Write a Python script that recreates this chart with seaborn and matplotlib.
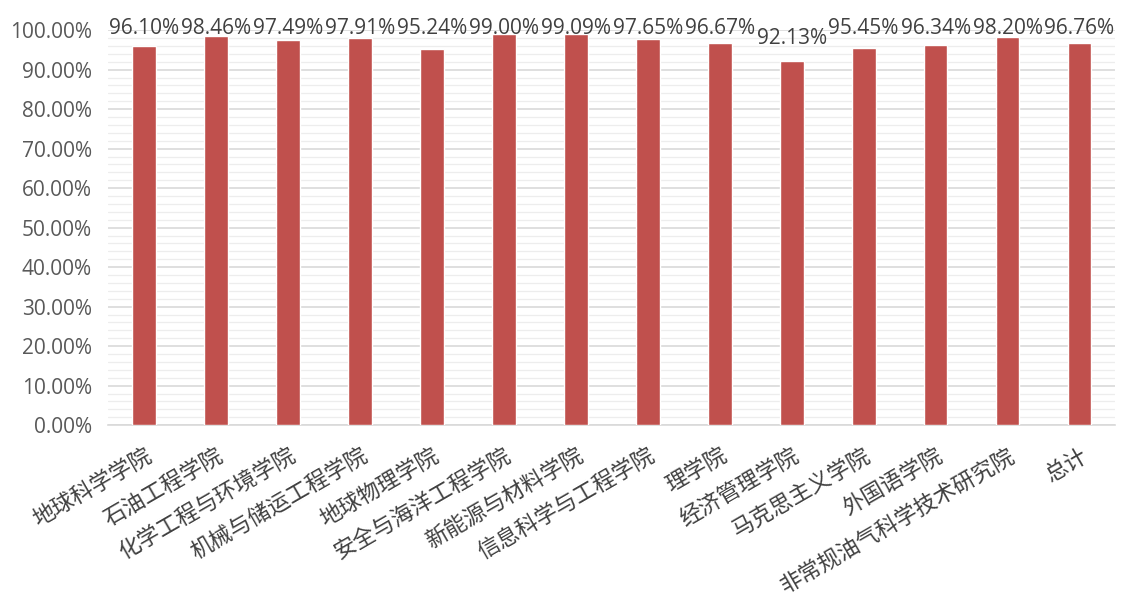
import numpy as np
import pandas as pd
import matplotlib
matplotlib.use("Agg")
import matplotlib.pyplot as plt
import seaborn as sns
from matplotlib.ticker import MultipleLocator, PercentFormatter

colleges = ["地球科学学院", "石油工程学院", "化学工程与环境学院", "机械与储运工程学院",
            "地球物理学院", "安全与海洋工程学院", "新能源与材料学院", "信息科学与工程学院",
            "理学院", "经济管理学院", "马克思主义学院", "外国语学院",
            "非常规油气科学技术研究院", "总计"]
rates = [96.10, 98.46, 97.49, 97.91, 95.24, 99.00, 99.09, 97.65,
         96.67, 92.13, 95.45, 96.34, 98.20, 96.76]

sns.set_theme(style="white")
plt.rcParams['font.family'] = ['Noto Sans CJK SC', 'DejaVu Sans']

df = pd.DataFrame({"college": colleges, "rate": rates})

fig = plt.figure(figsize=(11.29, 6.03), dpi=100)
ax = fig.add_axes([0.096, 0.295, 0.892, 0.655])

sns.barplot(data=df, x="college", y="rate", color="#C0504D", saturation=1,
            width=0.33, ax=ax, zorder=3)

ax.set_ylim(0, 100)
ax.set_xlim(-0.5, len(colleges) - 0.5)
ax.yaxis.set_major_locator(MultipleLocator(10))
ax.yaxis.set_minor_locator(MultipleLocator(2))
ax.yaxis.set_major_formatter(PercentFormatter(decimals=2))
ax.grid(axis="y", which="major", color="#D9D9D9", linewidth=1.2, zorder=0)
ax.grid(axis="y", which="minor", color="#EDEDED", linewidth=0.9, zorder=0)
ax.set_axisbelow(True)
for s in ["top", "right", "left"]:
    ax.spines[s].set_visible(False)
ax.spines["bottom"].set_color("#D9D9D9")
ax.spines["bottom"].set_linewidth(1.2)
ax.tick_params(axis="y", which="both", length=0, labelsize=15, labelcolor="#595959", pad=12)
ax.tick_params(axis="x", length=0, labelsize=16, labelcolor="#404040", pad=14)
for lab in ax.get_yticklabels():
    lab.set_family(["Open Sans", "DejaVu Sans"])
ax.set_xlabel("")
ax.set_ylabel("")
plt.setp(ax.get_xticklabels(), rotation=30, ha="right", rotation_mode="anchor")
for lab in ax.get_xticklabels():
    lab.set_fontweight("light")

# value labels above bars (kept inside the top band like the original)
for i, v in enumerate(rates):
    ax.text(i, min(v + 3.2, 97.8), f"{v:.2f}%", ha="center", va="bottom",
            fontsize=15, color="#404040", clip_on=False,
            family=["Open Sans", "DejaVu Sans"])

fig.savefig("out.png", dpi=100)
